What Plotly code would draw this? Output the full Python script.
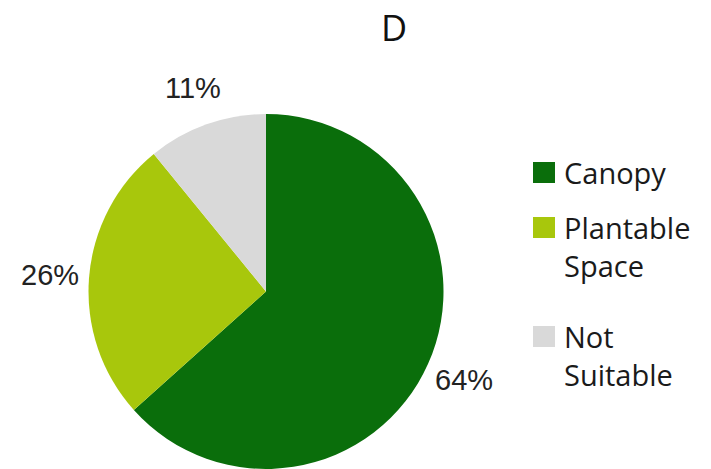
import math
import plotly.graph_objects as go

# Land-cover shares for site D
categories = ["Canopy", "Plantable<br>Space", "Not<br>Suitable"]
shares = [64, 26, 11]
share_labels = ["64%", "26%", "11%"]
colors = ["#0a6e0b", "#a8c70c", "#d9d9d9"]
chart_title = "D"

W, H = 711, 469

# pie placement (pixels) and its domain in paper units
cx, cy, r = 266, 292, 177.5
dom_x = [(cx - r) / W, (cx + r) / W]
dom_y = [0, 2 * r / H]

fig = go.Figure()
fig.add_trace(go.Pie(
    labels=categories,
    values=shares,
    text=share_labels,
    textinfo="none",
    marker=dict(colors=colors, line=dict(color="white", width=0)),
    sort=False,
    direction="clockwise",
    rotation=0,
    domain=dict(x=dom_x, y=dom_y),
    showlegend=False,
    hoverinfo="label+text",
))

annotations = []

# Percentage labels outside each slice, at the slice's mid-angle
total = sum(shares)
acc = 0
label_dist = 1.22 * r
for val, lab in zip(shares, share_labels):
    mid = (acc + val / 2) / total * 2 * math.pi
    acc += val
    px = cx + label_dist * math.sin(mid)
    py = cy - label_dist * math.cos(mid)
    annotations.append(dict(
        text=lab, xref="paper", yref="paper",
        x=px / W, y=1 - py / H, xanchor="center", yanchor="middle",
        showarrow=False,
        font=dict(family="Liberation Sans, Arial", size=29, color="#222222"),
    ))

# Legend: colour swatch plus wrapped category name
legend_tops = [163, 218, 327]
shapes = []
for cat, col, top in zip(categories, colors, legend_tops):
    shapes.append(dict(
        type="rect", xref="paper", yref="paper",
        x0=533 / W, x1=555 / W,
        y0=1 - (top + 20) / H, y1=1 - (top - 1) / H,
        fillcolor=col, line=dict(width=0),
    ))
    annotations.append(dict(
        text=cat, xref="paper", yref="paper",
        x=562 / W, y=1 - (top - 12) / H,
        xanchor="left", yanchor="top", align="left",
        showarrow=False,
        font=dict(family="Open Sans", size=29, color="#1a1a1a"),
    ))

annotations.append(dict(
    text=chart_title, xref="paper", yref="paper",
    x=394 / W, y=1 - 28 / H, xanchor="center", yanchor="middle",
    showarrow=False,
    font=dict(family="Open Sans", size=36, color="#111111"),
))

fig.update_layout(
    width=W, height=H,
    margin=dict(l=0, r=0, t=0, b=0),
    paper_bgcolor="white",
    plot_bgcolor="white",
    shapes=shapes,
    annotations=annotations,
)

fig.write_html("out.html")
